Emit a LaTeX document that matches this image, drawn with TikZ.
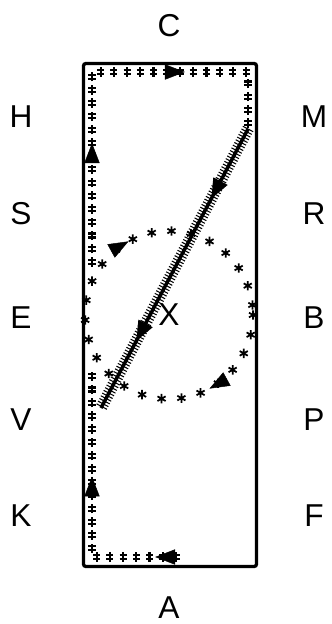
\documentclass[tikz,border=0pt]{standalone}
\usepackage{fontspec}
\setmainfont{Liberation Sans}
\usetikzlibrary{arrows.meta,decorations.markings}

\tikzset{
  letter/.style={font=\fontsize{27}{32}\selectfont, inner sep=0pt},
  wall/.style={line width=2.8pt, rounded corners=2pt},
  % rows of small double-barred marks along the track
  trackmarks/.style={postaction={decorate, decoration={markings,
      mark=between positions 0 and 1 step 11.3pt with {\pgftransformresetnontranslations
        \draw[line width=1.8pt] (0pt,-4pt) -- (0pt,4pt)
          (-3pt,1.7pt) -- (3pt,1.7pt) (-3pt,-1.7pt) -- (3pt,-1.7pt);}}}},
  % star marks along the circle
  starmarks/.style={postaction={decorate, decoration={markings,
      mark=between positions 0 and 1 step 17pt with {\pgftransformresetnontranslations
        \draw[line width=1.5pt] (90:4pt) -- (270:4pt)
          (30:4pt) -- (210:4pt) (150:4pt) -- (330:4pt);}}}},
  % thick line with cross ticks
  hatched/.style={line width=3pt, postaction={decorate, decoration={markings,
      mark=between positions 0 and 1 step 2.6pt with {\draw[line width=0.9pt] (0pt,-5pt) -- (0pt,5pt);}}}},
  rtip/.tip={Triangle[length=17pt, width=13pt]}
}

\begin{document}
\begin{tikzpicture}[x=0.03cm, y=-0.03cm]
  \useasboundingbox (0,0) rectangle (331,624);

  % Arena
  \draw[wall] (83.5,63.5) rectangle (256.5,566.5);

  % Letters
  \node[letter] (C) at (169,26) {C};
  \node[letter] (A) at (169,608) {A};
  \node[letter] (H) at (21,117) {H};
  \node[letter] (S) at (21,214) {S};
  \node[letter] (E) at (21,318) {E};
  \node[letter] (V) at (21,420) {V};
  \node[letter] (K) at (21,516) {K};
  \node[letter] (M) at (314,117) {M};
  \node[letter] (R) at (314,214) {R};
  \node[letter] (B) at (314,318) {B};
  \node[letter] (P) at (314,420) {P};
  \node[letter] (F) at (314,516) {F};
  \node[letter] (X) at (169,315) {X};

  % Track corners
  \coordinate (start) at (176,557);
  \coordinate (kcorner) at (92,557);
  \coordinate (vgap) at (92,370);
  \coordinate (sgap) at (92,262);
  \coordinate (hcorner) at (92,72);
  \coordinate (mcorner) at (248,72);
  \coordinate (mturn) at (248,129);
  \coordinate (vturn) at (101,408);

  % Track along the wall, A to K to V
  \path[trackmarks, postaction={decorate, decoration={markings,
      mark=at position 0.077 with {\arrow{rtip}},
      mark=at position 0.607 with {\arrow{rtip}}}}]
    (start) -- (kcorner) -- (vgap);

  % Track along the wall, S to H to M
  \path[trackmarks, postaction={decorate, decoration={markings,
      mark=at position 0.295 with {\arrow{rtip}},
      mark=at position 0.702 with {\arrow{rtip}}}}]
    (sgap) -- (hcorner) -- (mcorner) -- (mturn);

  % Change of rein M to V
  \draw[hatched, postaction={decorate, decoration={markings,
      mark=at position 0.25 with {\arrow{rtip}},
      mark=at position 0.76 with {\arrow{rtip}}}}]
    (mturn) -- (vturn);

  % Circle at X
  \path[starmarks, postaction={decorate, decoration={markings,
      mark=at position 0.17 with {\arrow{rtip}},
      mark=at position 0.67 with {\arrow{rtip}}}}]
    (X.center) circle[radius=84];
\end{tikzpicture}
\end{document}
